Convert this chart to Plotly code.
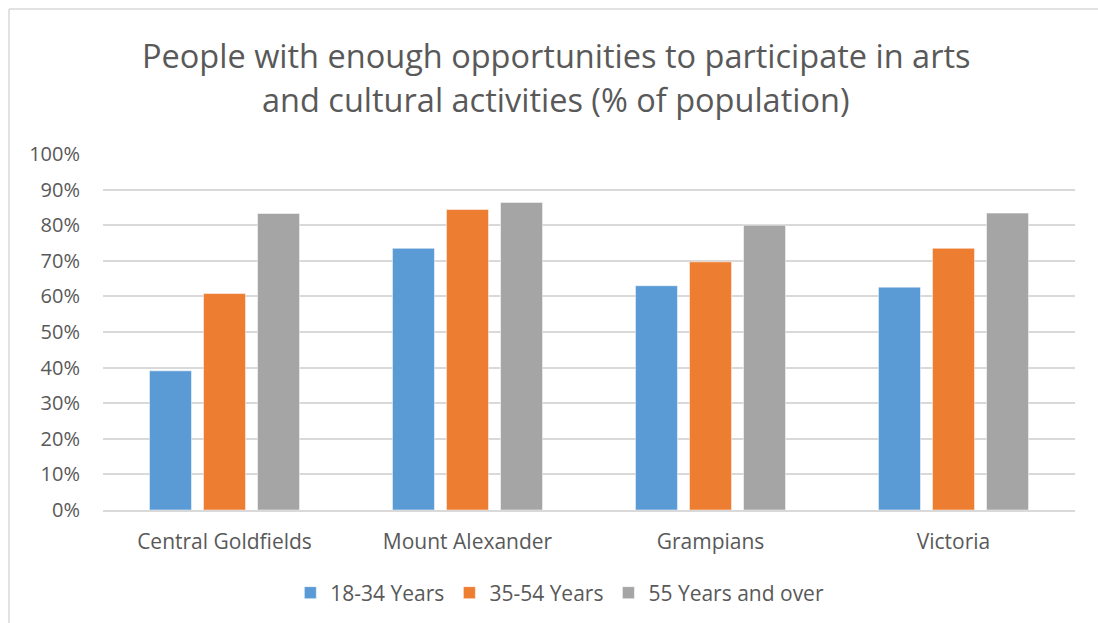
import plotly.graph_objects as go

categories = ["Central Goldfields", "Mount Alexander", "Grampians", "Victoria"]
series_names = ["18-34 Years", "35-54 Years", "55 Years and over"]
vals_18_34 = [0.391, 0.735, 0.630, 0.626]
vals_35_54 = [0.608, 0.844, 0.697, 0.735]
vals_55_over = [0.833, 0.864, 0.800, 0.834]
colors = ["#5b9bd5", "#ed7d31", "#a5a5a5"]
tick_vals = [i / 10 for i in range(11)]
tick_text = [f"{i*10}%" for i in range(11)]
title_lines = ["People with enough opportunities to participate in arts",
               "and cultural activities (% of population)"]

W, H = 1098, 623
L, R, T, B = 103, 23, 154, 113
PH = H - T - B
PW = W - L - R


def py(p):
    return (H - B - p) / PH


def px(p):
    return (p - L) / PW


fig = go.Figure()
for name, vals, c in zip(series_names, [vals_18_34, vals_35_54, vals_55_over], colors):
    fig.add_trace(go.Bar(x=categories, y=vals, name=name, marker_color=c,
                         marker_line=dict(color="rgba(255,255,255,0.5)", width=1)))

font_family = "Open Sans, Noto Sans, sans-serif"
fig.update_layout(
    width=W, height=H,
    margin=dict(l=L, r=R, t=T, b=B, autoexpand=False),
    paper_bgcolor="white", plot_bgcolor="white",
    barmode="group", bargap=0.333, bargroupgap=0.222,
    font=dict(family=font_family, color="#595959"),
    xaxis=dict(showline=True, linecolor="#d9d9d9", linewidth=1.5, ticks="",
               ticklabelstandoff=12, automargin=False,
               tickfont=dict(size=21, color="#595959")),
    yaxis=dict(range=[0, 1.0], tickvals=tick_vals, ticktext=tick_text,
               showgrid=True, gridcolor="#d9d9d9", gridwidth=1.5, zeroline=False,
               ticklabelstandoff=22, automargin=False,
               tickfont=dict(size=20, color="#595959"), ticks="", ticklen=0),
    legend=dict(orientation="h", x=0.47, xanchor="center", y=py(593), yanchor="middle",
                font=dict(size=21, color="#595959"), itemwidth=30),
    showlegend=True,
)
for line, ypos in zip(title_lines, [55, 100]):
    fig.add_annotation(text=line, xref="paper", yref="paper", x=px(556), y=py(ypos),
                       xanchor="center", yanchor="middle", showarrow=False,
                       font=dict(family=font_family, size=32.5, color="#595959"))
# outer chart border (top and left, as in the reference)
fig.add_shape(type="line", xref="paper", yref="paper",
              x0=px(9), x1=px(W), y0=py(9), y1=py(9),
              line=dict(color="#d9d9d9", width=1.5))
fig.add_shape(type="line", xref="paper", yref="paper",
              x0=px(9), x1=px(9), y0=py(9), y1=py(H),
              line=dict(color="#d9d9d9", width=1.5))

fig.write_html("out.html", config={"displayModeBar": False},
               post_script="document.body.style.margin='0px';document.body.style.overflow='hidden';")
